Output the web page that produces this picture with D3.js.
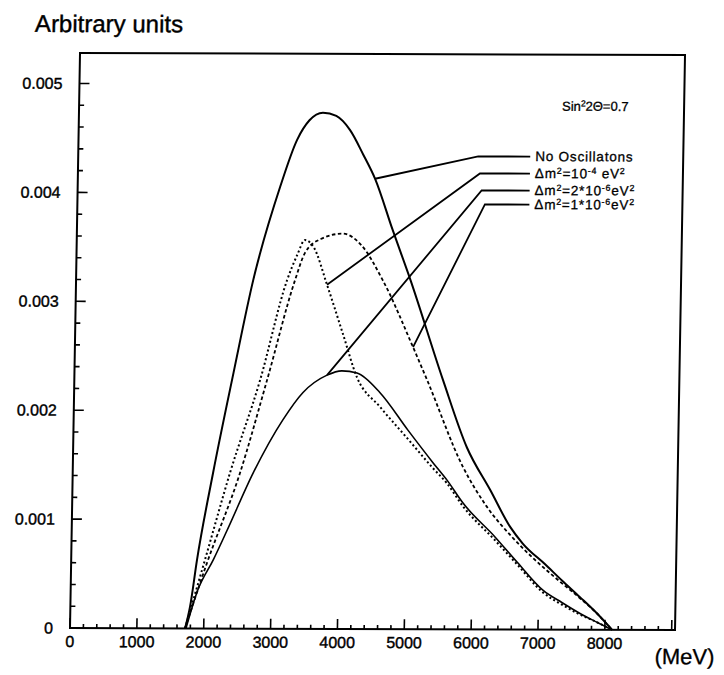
<!DOCTYPE html>
<html><head><meta charset="utf-8">
<script src="https://cdn.jsdelivr.net/npm/d3@7"></script>
<style>body{margin:0;background:#fff}</style>
</head><body><svg id="c" width="724" height="675"></svg>
<script>
// ---- data (energy in MeV, arbitrary units) ----
const energyNoOsc = [1720,1790,1882,2100,2380,2650,3030,3270,3450,3650,3850,4060,4260,4450,4720,5000,5514,5890,6250,6560,6750,7090,7350,7620,7880,8110];
const valueNoOsc  = [0,0.0002,0.00063,0.00143,0.00235,0.0032,0.00406,0.00449,0.00467,0.00474,0.00471,0.00458,0.00436,0.00413,0.00367,0.00321,0.00229,0.00167,0.00128,0.00094,0.00079,0.0006,0.00045,0.0003,0.00015,0];

const energyDm1e4 = [1720,2001,2353,2778,3156,3300,3414,3550,3755,4000,4228,4580,5000,5386,5601,5846,6333,6669,7068,7350,7625,7880,8108];
const valueDm1e4  = [0,0.00063,0.00143,0.00228,0.0032,0.00343,0.00357,0.0035,0.00316,0.00272,0.00231,0.00204,0.00175,0.00148,0.00134,0.00113,0.00082,0.0006,0.00034,0.00023,0.00014,0.00007,0];

const energyDm2e6 = [1735,1900,2125,2323,2700,3132,3424,3779,4000,4227,4576,5000,5386,5601,5846,6333,6669,7068,7350,7625,7880,8108];
const valueDm2e6  = [0,0.00035,0.00063,0.0009,0.00143,0.00192,0.00217,0.00233,0.00237,0.00235,0.00217,0.00183,0.00153,0.00137,0.00116,0.00085,0.00062,0.00036,0.00025,0.00015,0.00007,0];

const energyDm1e6 = [1720,2031,2503,2882,3275,3416,3650,3981,4250,4591,5058,5276,5837,6200,6588,6938,7300,7620,7880,8108];
const valueDm1e6  = [0,0.0006,0.00143,0.00228,0.0032,0.00345,0.00358,0.00363,0.00353,0.0032,0.00259,0.00229,0.00149,0.00113,0.00085,0.00064,0.00045,0.00029,0.00015,0];

const xTickValues = [0,1000,2000,3000,4000,5000,6000,7000,8000];
const xTickLabels = ["0","1000","2000","3000","4000","5000","6000","7000","8000"];
const yTickValues = [0,0.001,0.002,0.003,0.004,0.005];
const yTickLabels = ["0","0.001","0.002","0.003","0.004","0.005"];

// legend rows: parts [text, superscript?]
const legendRows = [
  [["No Oscillatons",0]],
  [["\u0394m",0],["2",1],["=10",0],["-4",1],[" eV",0],["2",1]],
  [["\u0394m",0],["2",1],["=2*10",0],["-6",1],["eV",0],["2",1]],
  [["\u0394m",0],["2",1],["=1*10",0],["-6",1],["eV",0],["2",1]]
];
const leaderTargetEnergy = [4446, 3755, 3779, 5058];
const mixingLabel = [["Sin",0],["2",1],["2\u0398=0.7",0]];

// ---- setup ----
const svg = d3.select("#c");
const g = svg.append("g").attr("transform","matrix(1,0.0035,-0.0174,1,10.93,-0.245)");
const x = d3.scaleLinear().domain([0, 9050]).range([70, 675]);
const y = d3.scaleLinear().domain([0, 0.00528]).range([628, 53]);
const FONT = "'Liberation Sans', Arial, sans-serif";

// frame
g.append("rect").attr("x", x(0)).attr("y", y(0.00528))
  .attr("width", x(9050)-x(0)).attr("height", y(0)-y(0.00528))
  .attr("fill","none").attr("stroke","#000").attr("stroke-width",2);

// x ticks (inward)
const xMinor = d3.range(0, 9001, 200);
g.append("g").selectAll("line").data(xMinor).join("line")
  .attr("x1", d=>x(d)).attr("x2", d=>x(d))
  .attr("y1", y(0)).attr("y2", d=> y(0) - (d%1000===0 ? 10 : 4))
  .attr("stroke","#000").attr("stroke-width",1.6);
// y ticks
const yMinor = d3.range(0, 26).map(i=>i*0.0002);
g.append("g").selectAll("line").data(yMinor).join("line")
  .attr("y1", d=>y(d)).attr("y2", d=>y(d))
  .attr("x1", x(0)).attr("x2", (d,i)=> x(0) + (i%5===0 ? 10 : 5))
  .attr("stroke","#000").attr("stroke-width",1.6);

// tick labels
g.append("g").selectAll("text").data(xTickValues).join("text")
  .attr("x", d=>x(d)).attr("y", 647).attr("text-anchor","middle")
  .attr("font-family",FONT).attr("font-size",16)
  .attr("stroke","#000").attr("stroke-width",0.4)
  .text((d,i)=>xTickLabels[i]);
g.append("g").selectAll("text").data(yTickValues).join("text")
  .attr("x", x(0)-17).attr("y", d=>y(d)+5.5).attr("text-anchor","end")
  .attr("font-family",FONT).attr("font-size",16)
  .attr("stroke","#000").attr("stroke-width",0.4)
  .text((d,i)=>yTickLabels[i]);

// axis titles
g.append("text").attr("x",24.5).attr("y",32).attr("font-family",FONT).attr("font-size",24)
  .attr("stroke","#000").attr("stroke-width",0.4).text("Arbitrary units");
g.append("text").attr("x",655).attr("y",662).attr("font-family",FONT).attr("font-size",22)
  .attr("stroke","#000").attr("stroke-width",0.3).text("(MeV)");

// curves
const series = [
  {e: energyNoOsc, v: valueNoOsc, dash: null, w: 2},
  {e: energyDm1e4, v: valueDm1e4, dash: "2,2.5", w: 2},
  {e: energyDm2e6, v: valueDm2e6, dash: null, w: 1.6},
  {e: energyDm1e6, v: valueDm1e6, dash: "3.5,2.5", w: 1.8}
];
const line = d3.line().x(d=>x(d[0])).y(d=>y(d[1])).curve(d3.curveMonotoneX);
series.forEach(s=>{
  g.append("path").datum(s.e.map((e,i)=>[e, s.v[i]]))
    .attr("d", line).attr("fill","none").attr("stroke","#000")
    .attr("stroke-width", s.w).attr("stroke-dasharray", s.dash);
});

function interp(es, vs, e){
  for(let i=1;i<es.length;i++){ if(e<=es[i]){ const t=(e-es[i-1])/(es[i]-es[i-1]); return vs[i-1]+t*(vs[i]-vs[i-1]); } }
  return vs[vs.length-1];
}

// legend
const rowY = [155, 172, 189, 203];
const knee = [470, 472, 474, 477.5];
function addRich(sel, parts, size){
  let sup=false;
  parts.forEach(p=>{
    const t = sel.append("tspan").text(p[0]);
    if(p[1]){ t.attr("font-size", size*0.65); if(!sup) t.attr("dy",-4.5); sup=true; }
    else { if(sup) t.attr("dy",4.5); sup=false; }
  });
}
legendRows.forEach((parts,i)=>{
  const s = series[i];
  const te = leaderTargetEnergy[i];
  const tv = interp(s.e, s.v, te);
  g.append("polyline")
    .attr("points", `${x(te)},${y(tv)} ${knee[i]},${rowY[i]} 522,${rowY[i]}`)
    .attr("fill","none").attr("stroke","#000").attr("stroke-width",1.8);
  const t = g.append("text").attr("x",527).attr("y",rowY[i]+4.5)
    .attr("font-family",FONT).attr("font-size",13.5).attr("letter-spacing",0.8)
    .attr("stroke","#000").attr("stroke-width",0.3);
  addRich(t, parts, 13.5);
});
const mt = g.append("text").attr("x",553).attr("y",109)
  .attr("font-family",FONT).attr("font-size",13)
  .attr("stroke","#000").attr("stroke-width",0.3);
addRich(mt, mixingLabel, 13);
</script></body></html>
